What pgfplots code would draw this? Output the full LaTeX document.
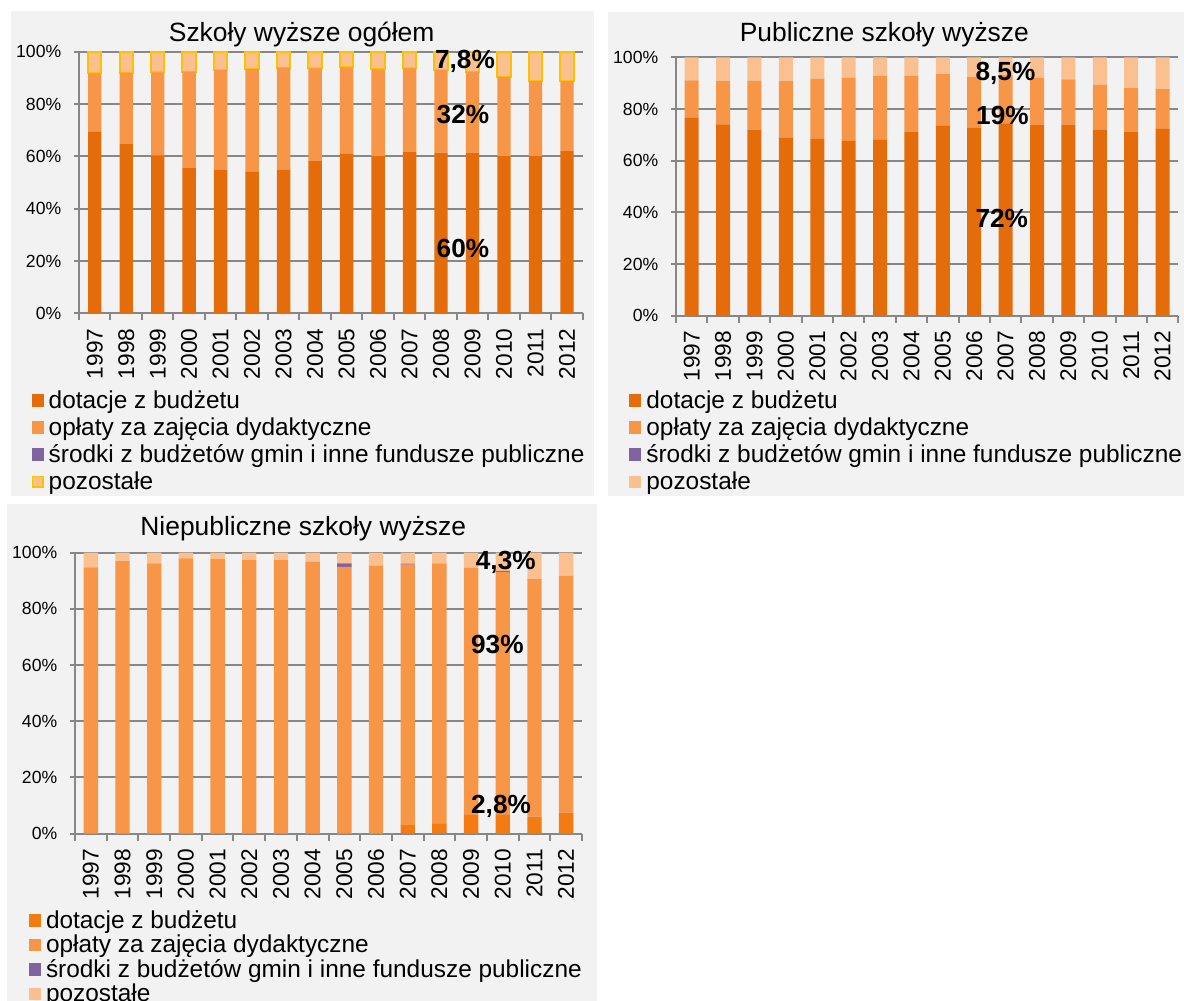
\documentclass[border=0pt]{standalone}
\usepackage{pgfplots}
\pgfplotsset{compat=1.18}
\usepackage{pgfplotstable}
\usepackage{fontspec}
\setmainfont{Liberation Sans}

\definecolor{panelgray}{HTML}{F2F2F2}
\definecolor{axgray}{HTML}{878787}
\definecolor{cdot}{HTML}{E46C0A}
\definecolor{cdotb}{HTML}{F47A14}
\definecolor{copl}{HTML}{F79646}
\definecolor{csrod}{HTML}{8064A2}
\definecolor{cpoz}{HTML}{FAC090}
\definecolor{cpozedge}{HTML}{FFC000}

\newcommand{\tickfont}{\fontsize{8.8pt}{10pt}\selectfont}
\newcommand{\yearfont}{\fontsize{11.35pt}{13pt}\selectfont}
\newcommand{\legfont}{\fontsize{12.2pt}{14pt}\selectfont}
\newcommand{\titlefont}{\fontsize{13.2pt}{15pt}\selectfont}
\newcommand{\lblfont}{\fontsize{13.1pt}{15pt}\selectfont\bfseries}

% Structure of revenue (per cent); x = year index, 0 = 1997 ... 15 = 2012
% dot = dotacje z budżetu, opl = opłaty za zajęcia dydaktyczne,
% srod = środki z budżetów gmin i inne fundusze publiczne, poz = pozostałe
\pgfplotstableread{
x dot opl srod poz
0 69.4 22.3 0 8.3
1 64.7 27.3 0 8.0
2 60.3 31.8 0 7.9
3 55.7 36.7 0 7.6
4 54.8 38.2 0 7.0
5 54.1 39.3 0 6.6
6 54.8 39.1 0 6.1
7 58.2 35.4 0 6.4
8 60.9 33.1 0 6.0
9 60.1 33.1 0 6.8
10 61.8 31.8 0 6.4
11 61.4 31.6 0 7.0
12 61.4 31.0 0 7.6
13 60.1 30.3 0 9.6
14 60.1 28.7 0 11.2
15 62.0 26.8 0 11.2
}\ogolem

\pgfplotstableread{
x dot opl srod poz
0 76.6 14.5 0 8.9
1 74.0 16.8 0 9.2
2 71.8 19.1 0 9.1
3 68.8 22.0 0 9.2
4 68.4 23.3 0 8.3
5 67.7 24.4 0 7.9
6 68.2 24.6 0 7.2
7 71.2 21.6 0 7.2
8 73.5 20.0 0 6.5
9 72.7 19.8 0 7.5
10 74.4 18.7 0 6.9
11 73.9 18.2 0 7.9
12 73.9 17.6 0 8.5
13 71.9 17.5 0 10.6
14 71.2 16.9 0 11.9
15 72.3 15.4 0 12.3
}\publiczne

\pgfplotstableread{
x dot opl srod poz
0 0 94.8 0 5.2
1 0 97.0 0 3.0
2 0 96.2 0 3.8
3 0 98.0 0 2.0
4 0 97.7 0 2.3
5 0 97.4 0 2.6
6 0 97.4 0 2.6
7 0 96.8 0 3.2
8 0 95.0 1.2 3.8
9 0 95.4 0 4.6
10 3.0 92.8 0.3 3.9
11 3.4 92.8 0 3.8
12 6.6 88.1 0 5.3
13 6.6 86.6 0.3 6.5
14 6.0 84.6 0 9.4
15 7.4 84.4 0 8.2
}\niepubliczne

\pgfplotsset{
  panel/.style={
    scale only axis,
    ybar stacked,
    clip=false,
    xmin=-0.5, xmax=15.5, ymin=0, ymax=100,
    axis x line*=bottom, axis y line*=left,
    axis line style={draw=axgray, line width=1pt},
    ymajorgrids, grid style={draw=axgray, line width=1pt},
    ytick={0,20,40,60,80,100},
    yticklabels={0\%,20\%,40\%,60\%,80\%,100\%},
    yticklabel style={font=\tickfont, inner sep=0pt},
    yticklabel shift=6.2pt,
    xtick={0,...,15},
    xticklabels={1997,1998,1999,2000,2001,2002,2003,2004,2005,2006,2007,2008,2009,2010,2011,2012},
    xticklabel style={font=\yearfont, rotate=90, anchor=east, inner sep=0pt},
    xticklabel shift=5pt,
    minor xtick={-0.5,0.5,...,15.5},
    tick align=outside,
    major tick length=2.5pt, minor tick length=3.5pt,
    tick style={draw=axgray, line width=1pt},
    major x tick style={draw=none},
  },
  legbox/.style={
    draw=none, fill=none, inner sep=0pt, outer sep=0pt,
    font=\legfont, anchor=north west,
    cells={anchor=west},
    nodes={inner sep=0pt, text height=10.7pt, text depth=2.9pt},
    column sep=2.5pt,
  },
  % plain filled legend square
  leg/.style={legend image code/.code={\fill[##1, draw=none] (0pt,-3.05pt) rectangle (6pt,3.1pt);}},
  % legend square with a yellow edge
  lego/.style={legend image code/.code={\filldraw[##1, draw=cpozedge, line width=0.75pt] (0.4pt,-2.65pt) rectangle (5.6pt,2.7pt);}},
}
\tikzset{lbl/.style={anchor=base west, font=\lblfont, inner sep=0pt}}

\begin{document}
\begin{tikzpicture}
% page and panel backgrounds
\fill[white] (0pt,0pt) rectangle (592pt,-500.5pt);
\fill[panelgray] (5.5pt,-5.5pt) rectangle (297pt,-247.75pt);
\fill[panelgray] (304.15pt,-6.15pt) rectangle (600pt,-248pt);
\fill[panelgray] (3.35pt,-252pt) rectangle (298.5pt,-505pt);

% titles
\node[anchor=base west, font=\titlefont, inner sep=0pt] at (84.25pt,-20.85pt) {Szkoły wyższe ogółem};
\node[anchor=base west, font=\titlefont, inner sep=0pt] at (369.7pt,-20.85pt) {Publiczne szkoły wyższe};
\node[anchor=base west, font=\titlefont, inner sep=0pt] at (70pt,-267.5pt) {Niepubliczne szkoły wyższe};

% --- all higher education institutions
\begin{axis}[panel,
  at={(39.5pt,-156.65pt)}, anchor=south west,
  width=251.85pt, height=130.8pt, bar width=6.7pt,
  legend style={legbox, at={(-0.0939,-0.2813)}, row sep=-0.05pt},
]
\addplot[leg, fill=cdot, draw=none] table[x=x, y=dot] {\ogolem};
\addplot[leg, fill=copl, draw=none] table[x=x, y=opl] {\ogolem};
\addplot[leg, fill=csrod, draw=none] table[x=x, y=srod] {\ogolem};
\addplot[lego, fill=cpoz, draw=cpozedge, line width=1pt] table[x=x, y=poz] {\ogolem};
\legend{dotacje z budżetu, opłaty za zajęcia dydaktyczne, środki z budżetów gmin i inne fundusze publiczne, pozostałe}
\coordinate (a1) at (axis cs:10.8,93.6);
\coordinate (a2) at (axis cs:10.85,72.4);
\coordinate (a3) at (axis cs:10.85,21.4);
\end{axis}
\node[lbl] at (a1) {7,8\%};
\node[lbl] at (a2) {32\%};
\node[lbl] at (a3) {60\%};

% --- public institutions
\begin{axis}[panel,
  at={(338pt,-157.85pt)}, anchor=south west,
  width=251.15pt, height=129.2pt, bar width=7pt,
  legend style={legbox, at={(-0.0928,-0.2755)}, row sep=-0.05pt},
]
\addplot[leg, fill=cdot, draw=none] table[x=x, y=dot] {\publiczne};
\addplot[leg, fill=copl, draw=none] table[x=x, y=opl] {\publiczne};
\addplot[leg, fill=csrod, draw=none] table[x=x, y=srod] {\publiczne};
\addplot[leg, fill=cpoz, draw=none] table[x=x, y=poz] {\publiczne};
\legend{dotacje z budżetu, opłaty za zajęcia dydaktyczne, środki z budżetów gmin i inne fundusze publiczne, pozostałe}
\coordinate (b1) at (axis cs:9.03,91.2);
\coordinate (b2) at (axis cs:9.05,74.1);
\coordinate (b3) at (axis cs:9.03,34.3);
\end{axis}
\node[lbl] at (b1) {8,5\%};
\node[lbl] at (b2) {19\%};
\node[lbl] at (b3) {72\%};

% --- non-public institutions
\begin{axis}[panel,
  at={(37.5pt,-416.75pt)}, anchor=south west,
  width=253.5pt, height=140.4pt, bar width=7.2pt,
  legend style={legbox, at={(-0.0907,-0.2618)}, row sep=-1.35pt},
]
\addplot[leg, fill=cdotb, draw=none] table[x=x, y=dot] {\niepubliczne};
\addplot[leg, fill=copl, draw=none] table[x=x, y=opl] {\niepubliczne};
\addplot[leg, fill=csrod, draw=none] table[x=x, y=srod] {\niepubliczne};
\addplot[leg, fill=cpoz, draw=none] table[x=x, y=poz] {\niepubliczne};
\legend{dotacje z budżetu, opłaty za zajęcia dydaktyczne, środki z budżetów gmin i inne fundusze publiczne, pozostałe}
\coordinate (c1) at (axis cs:12.14,94.1);
\coordinate (c2) at (axis cs:11.99,64.2);
\coordinate (c3) at (axis cs:11.99,7.2);
\end{axis}
\node[lbl] at (c1) {4,3\%};
\node[lbl] at (c2) {93\%};
\node[lbl] at (c3) {2,8\%};

\pgfresetboundingbox
\useasboundingbox (0pt,0pt) rectangle (592pt,-500.5pt);
\end{tikzpicture}
\end{document}
